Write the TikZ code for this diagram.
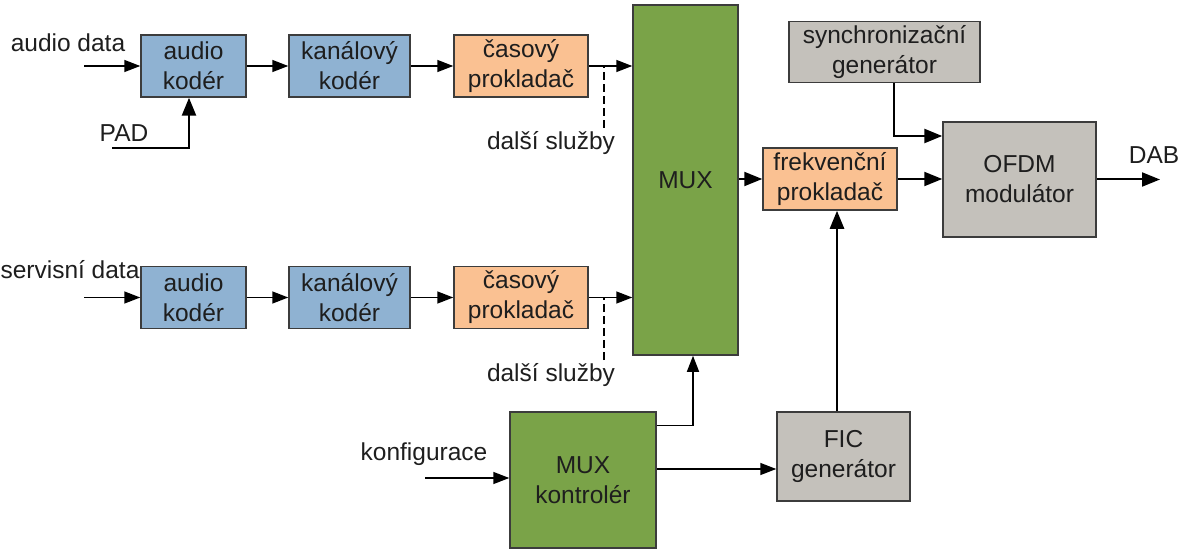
\documentclass[tikz,border=0pt]{standalone}
\usepackage{fontspec}
\setmainfont{Liberation Sans}
\usetikzlibrary{arrows.meta}
\definecolor{cblue}{RGB}{143,178,210}
\definecolor{corange}{RGB}{250,193,146}
\definecolor{cgreen}{RGB}{122,163,72}
\definecolor{cgray}{RGB}{196,193,187}
\definecolor{cborder}{RGB}{60,60,60}
\definecolor{ctext}{RGB}{30,30,30}
\begin{document}
\begin{tikzpicture}[x=1pt,y=-1pt,
  box/.style={draw=cborder,line width=1.5pt,inner sep=0pt,align=center,text=ctext,
    font=\fontsize{24.5}{30}\selectfont},
  lbl/.style={inner sep=0pt,text=ctext,font=\fontsize{24.5}{30}\selectfont},
  arr/.style={line width=1.5pt,-{Triangle[length=16pt,width=12pt]}},
  marr/.style={line width=2pt,-{Triangle[length=18pt,width=14pt]}},
  tarr/.style={line width=2.5pt,-{Triangle[length=18pt,width=14pt]}},
  blue/.style={box,fill=cblue},
  orange/.style={box,fill=corange},
  green/.style={box,fill=cgreen},
  grey/.style={box,fill=cgray}]
\useasboundingbox (0,0) rectangle (1180,556);
% row 1
\node[blue,minimum width=105pt,minimum height=62pt] (ak1) at (193.5,66) {audio\\kodér};
\node[blue,minimum width=121pt,minimum height=62pt] (kk1) at (349.5,66) {kanálový\\kodér};
\node[orange,minimum width=134pt,minimum height=62pt] (cp1) at (521,66) {časový\\prokladač};
% row 2
\node[blue,minimum width=105pt,minimum height=62pt] (ak2) at (193.5,297.5) {audio\\kodér};
\node[blue,minimum width=121pt,minimum height=62pt] (kk2) at (349.5,297.5) {kanálový\\kodér};
\node[orange,minimum width=134pt,minimum height=62pt] (cp2) at (521,297.5) {časový\\prokladač};
% others
\node[green,minimum width=105pt,minimum height=350pt] (mux) at (685.5,180) {MUX};
\node[orange,minimum width=134pt,minimum height=62pt] (fp) at (830,179) {frekvenční\\prokladač};
\node[grey,minimum width=191pt,minimum height=61pt] (sync) at (884.5,52) {synchronizační\\generátor};
\node[grey,minimum width=153pt,minimum height=115pt] (ofdm) at (1019.5,179.5) {OFDM\\modulátor};
\node[green,minimum width=146pt,minimum height=136pt] (mk) at (583,480) {MUX\\kontrolér};
\node[grey,minimum width=133pt,minimum height=89pt] (fic) at (843.5,456.5) {FIC\\generátor};
% labels
\node[lbl] (lad) at (68,43) {audio data};
\node[lbl] (lpad) at (124,133) {PAD};
\node[lbl] (ld1) at (551,143) {další služby};
\node[lbl] (lsd) at (70,270) {servisní data};
\node[lbl] (ld2) at (551,375) {další služby};
\node[lbl] (lkonf) at (424,454) {konfigurace};
\node[lbl] (ldab) at (1154,155) {DAB};
% free ends
\coordinate (in1) at (84,66);
\coordinate (in2) at (84,297.5);
\coordinate (pad) at (112,148);
\coordinate (d1) at (604,128);
\coordinate (d2) at (604,360);
\coordinate (konf) at (425,478);
\coordinate (dab) at (1160,179.5);
% row 1 connectors
\draw[arr] (in1) -- (ak1);
\draw[tarr] (pad) -| ([xshift=-4.5pt]ak1.south);
\draw[arr] (ak1) -- (kk1);
\draw[arr] (kk1) -- (cp1);
\draw[arr] (cp1.east) -- (cp1.east -| mux.west);
\draw[line width=1.2pt,dash pattern=on 8pt off 4pt] (d1) -- (d1 |- cp1.east);
% row 2 connectors
\draw[arr] (in2) -- (ak2);
\draw[arr] (ak2) -- (kk2);
\draw[arr] (kk2) -- (cp2);
\draw[arr] (cp2.east) -- (cp2.east -| mux.west);
\draw[line width=1.2pt,dash pattern=on 8pt off 4pt] (d2) -- (d2 |- cp2.east);
% right side
\draw[marr] (mux.east |- fp.west) -- (fp.west);
\draw[marr] (fp.east) -- (fp.east -| ofdm.west);
\draw[tarr] ([xshift=9.5pt]sync.south) |- ([yshift=43.5pt]ofdm.west);
\draw[marr] (ofdm.east) -- (dab);
\draw[tarr] ([xshift=-6.5pt]fic.north) -- ([xshift=-6.5pt]fic.north |- fp.south);
% controller
\draw[arr] (konf) -- (konf -| mk.west);
\draw[arr] ([yshift=-14pt]mk.north east) -| ([xshift=7.5pt]mux.south);
\draw[arr] ([yshift=11pt]mk.east) -- ([yshift=11pt]mk.east -| fic.west);
\end{tikzpicture}
\end{document}
